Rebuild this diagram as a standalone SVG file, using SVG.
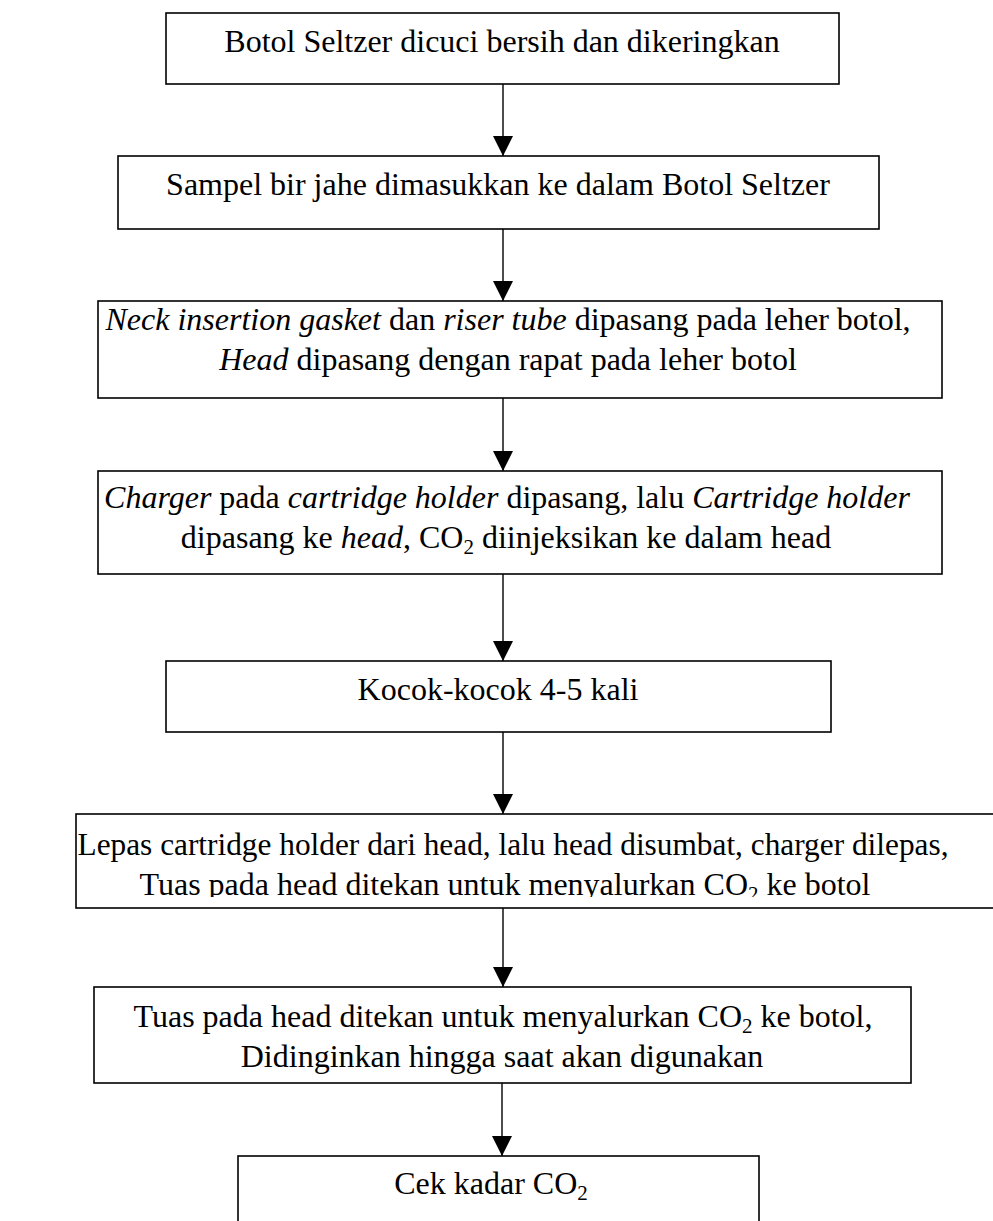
<svg xmlns="http://www.w3.org/2000/svg" width="993" height="1221" viewBox="0 0 993 1221">
<style>
.box{fill:#fff;stroke:#000;stroke-width:1.6}
.t{font-family:"Liberation Serif","Times New Roman",serif;font-size:32px;fill:#000;text-anchor:middle}
.i{font-style:italic}
.sub{font-size:21px}
.c{fill:none;stroke:#000;stroke-width:1.4}
</style>
<defs>
<marker id="ah" viewBox="0 0 20 20" refX="20" refY="10" markerWidth="20" markerHeight="20" markerUnits="userSpaceOnUse" orient="auto">
<path d="M0,0 L20,10 L0,20 z" fill="#000"/>
</marker>
<clipPath id="clip6"><rect x="70" y="810" width="930" height="87"/></clipPath>
</defs>
<rect width="993" height="1221" fill="#fff"/>
<g id="connectors">
<line class="c" x1="503" y1="84" x2="503" y2="156" marker-end="url(#ah)"/>
<line class="c" x1="503" y1="229" x2="503" y2="301" marker-end="url(#ah)"/>
<line class="c" x1="503" y1="398" x2="503" y2="471" marker-end="url(#ah)"/>
<line class="c" x1="503" y1="574" x2="503" y2="661" marker-end="url(#ah)"/>
<line class="c" x1="503" y1="732" x2="503" y2="814" marker-end="url(#ah)"/>
<line class="c" x1="503" y1="908" x2="503" y2="987" marker-end="url(#ah)"/>
<line class="c" x1="502" y1="1083" x2="502" y2="1156" marker-end="url(#ah)"/>
</g>
<g id="n1">
<rect class="box" x="166" y="13" width="673" height="71"/>
<text class="t" x="502" y="52">Botol Seltzer dicuci bersih dan dikeringkan</text>
</g>
<g id="n2">
<rect class="box" x="118" y="156" width="761" height="73"/>
<text class="t" x="498" y="195">Sampel bir jahe dimasukkan ke dalam Botol Seltzer</text>
</g>
<g id="n3">
<rect class="box" x="98" y="301" width="844" height="97"/>
<text class="t" x="508" y="330"><tspan class="i">Neck insertion gasket</tspan> dan <tspan class="i">riser tube</tspan> dipasang pada leher botol,</text>
<text class="t" x="508" y="370"><tspan class="i">Head</tspan> dipasang dengan rapat pada leher botol</text>
</g>
<g id="n4">
<rect class="box" x="98" y="471" width="844" height="103"/>
<text class="t" x="507" y="508"><tspan class="i">Charger</tspan> pada <tspan class="i">cartridge holder</tspan> dipasang, lalu <tspan class="i">Cartridge holder</tspan></text>
<text class="t" x="506" y="548">dipasang ke <tspan class="i">head</tspan>, CO<tspan class="sub" dy="6">2</tspan><tspan dy="-6"> diinjeksikan ke dalam head</tspan></text>
</g>
<g id="n5">
<rect class="box" x="166" y="661" width="665" height="71"/>
<text class="t" x="498" y="700">Kocok-kocok 4-5 kali</text>
</g>
<g id="n6">
<rect class="box" x="76" y="814" width="940" height="94"/>
<g clip-path="url(#clip6)">
<text class="t" x="513" y="855" textLength="871" lengthAdjust="spacingAndGlyphs">Lepas cartridge holder dari head, lalu head disumbat, charger dilepas,</text>
<text class="t" x="505" y="895">Tuas pada head ditekan untuk menyalurkan CO<tspan class="sub" dy="6">2</tspan><tspan dy="-6"> ke botol</tspan></text>
</g>
</g>
<g id="n7">
<rect class="box" x="94" y="987" width="817" height="96"/>
<text class="t" x="503" y="1027">Tuas pada head ditekan untuk menyalurkan CO<tspan class="sub" dy="6">2</tspan><tspan dy="-6"> ke botol,</tspan></text>
<text class="t" x="502" y="1067">Didinginkan hingga saat akan digunakan</text>
</g>
<g id="n8">
<rect class="box" x="238" y="1156" width="521" height="80"/>
<text class="t" x="491" y="1194">Cek kadar CO<tspan class="sub" dy="6">2</tspan></text>
</g>
</svg>
